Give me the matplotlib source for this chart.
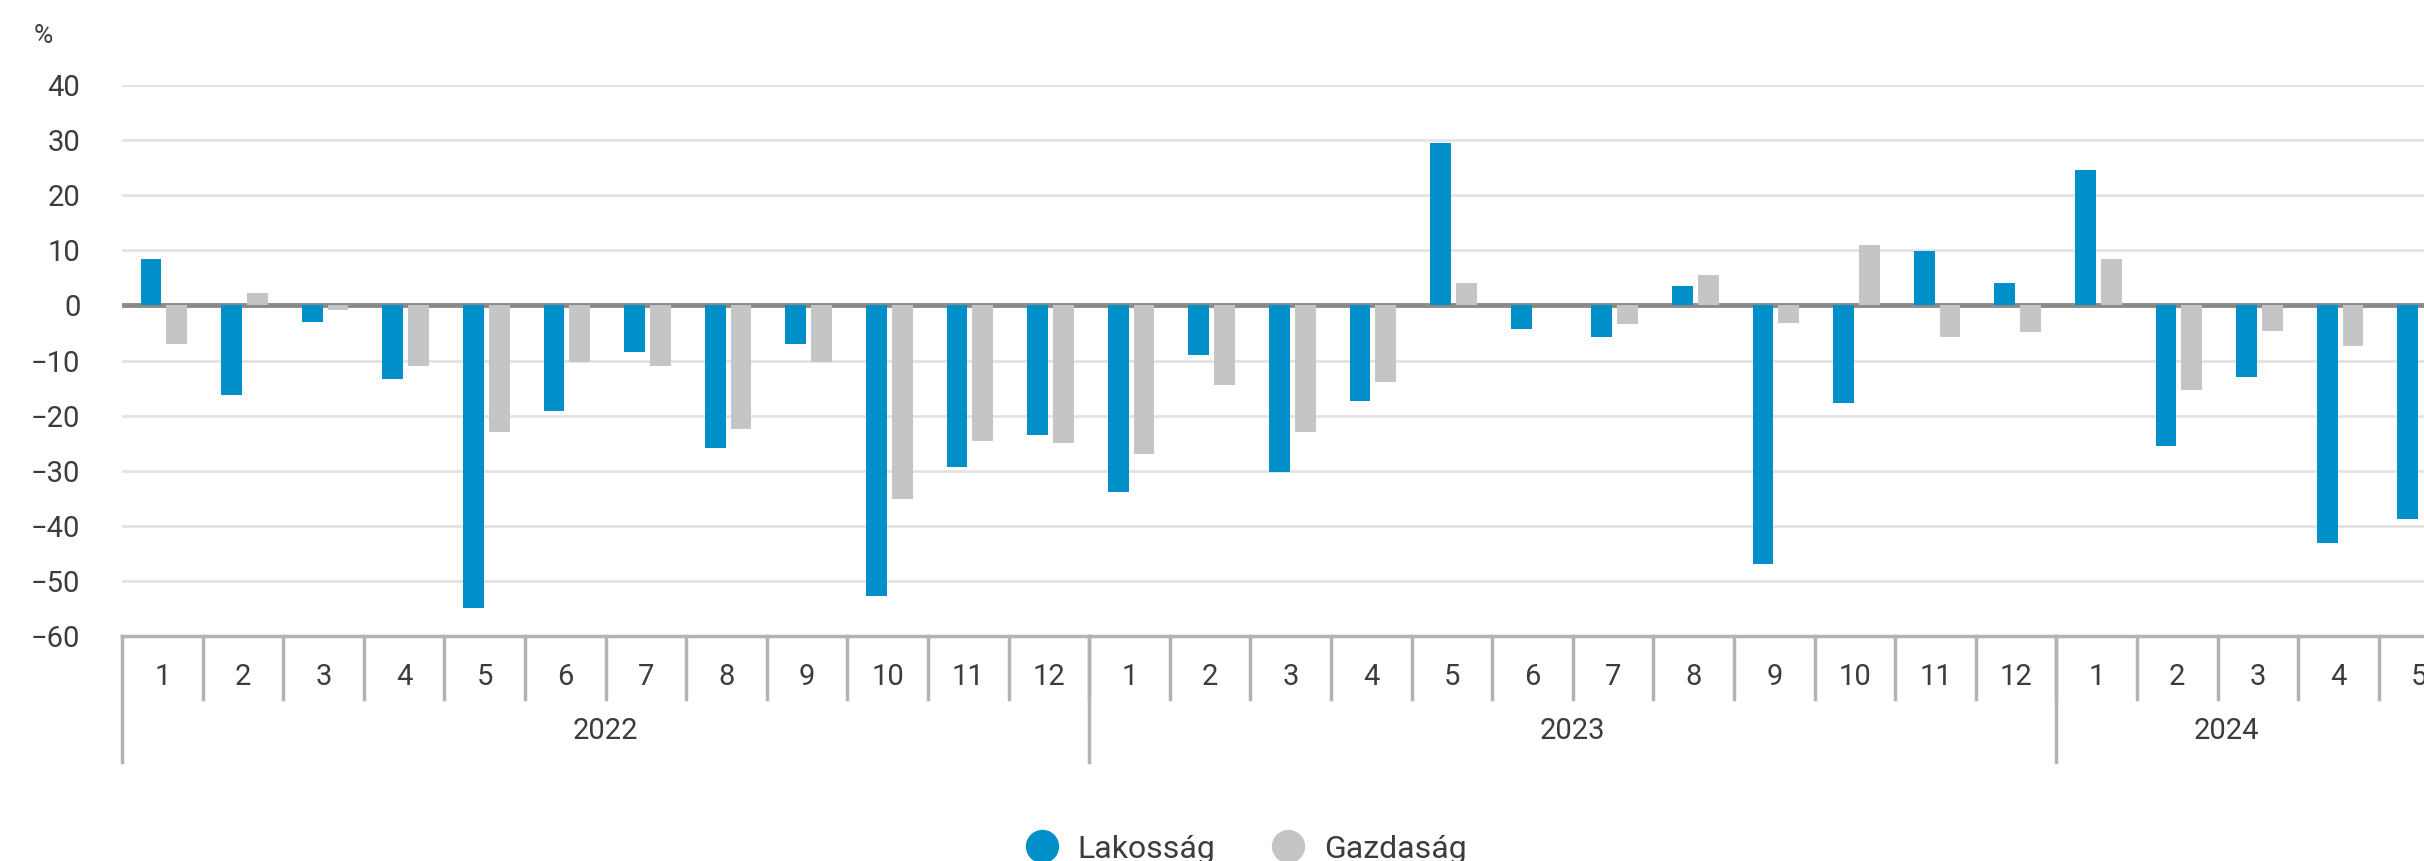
import numpy as np
import matplotlib
matplotlib.use('Agg')
import matplotlib.pyplot as plt
from matplotlib.lines import Line2D

## Data

years = ['2022', '2023', '2024']
months_per_year = [12, 12, 5]
month_labels = [str(m) for n in months_per_year for m in range(1, n + 1)]

lakossag = [8.5, -16.3, -3.0, -13.3, -55.0, -19.2, -8.5, -25.9, -7.0, -52.8, -29.3, -23.6,
            -33.8, -9.0, -30.3, -17.3, 29.4, -4.2, -5.7, 3.6, -47.0, -17.7, 9.8, 4.1,
            24.5, -25.5, -13.0, -43.2, -38.7]
gazdasag = [-7.0, 2.2, -0.8, -11.0, -23.0, -10.2, -11.0, -22.5, -10.2, -35.2, -24.6, -25.0,
            -27.0, -14.4, -23.0, -13.9, 4.1, 0.0, -3.3, 5.6, -3.2, 10.9, -5.7, -4.8,
            8.5, -15.3, -4.6, -7.4, np.nan]

series_names = ['Lakosság', 'Gazdaság']
colors = ['#008fc9', '#c4c5c7']

## Style

plt.rcParams['font.family'] = ['Roboto', 'DejaVu Sans']
text_col = '#3c3c3c'
axis_col = '#b3b3b3'

W, H = 2424, 861
fig = plt.figure(figsize=(W / 100, H / 100), dpi=100)

# axes in pixel units (slot width ~80.6 px, chart cut at right edge)
left_px, top_px, bottom_px = 122, 85, 636
n = len(month_labels)
slot = 80.6
ax = fig.add_axes([left_px / W, 1 - bottom_px / H, n * slot / W, (bottom_px - top_px) / H])

x = np.arange(n)
bw = 0.26
ax.bar(x - 0.14, lakossag, bw, color=colors[0], zorder=3)
ax.bar(x + 0.18, gazdasag, bw, color=colors[1], zorder=3)

ax.set_xlim(-0.5, n - 0.5)
ax.set_ylim(-60, 40)
ax.set_yticks(range(-60, 41, 10))
ax.grid(axis='y', color='#e3e3e3', linewidth=2, zorder=0)
ax.axhline(0, color='#8a8a8a', linewidth=3.5, zorder=2)
for s in ['top', 'right', 'left']:
    ax.spines[s].set_visible(False)
ax.spines['bottom'].set_color(axis_col)
ax.spines['bottom'].set_linewidth(2.5)
ax.tick_params(axis='y', length=0, pad=30, labelsize=21, labelcolor=text_col)
ax.set_xticks([])

# grouped category axis below the plot
tr = ax.get_xaxis_transform()
axh = bottom_px - top_px
def ay(px):
    return (bottom_px - px) / axh

for i, lab in enumerate(month_labels):
    ax.text(i, ay(677), lab, transform=tr, ha='center', va='center',
            fontsize=21, color=text_col, clip_on=False)
    if i > 0:
        ax.plot([i - 0.5, i - 0.5], [0, ay(699)], transform=tr, color=axis_col,
                linewidth=2.5, clip_on=False)

start = 0
for yr, cnt in zip(years, months_per_year):
    ax.plot([start - 0.5, start - 0.5], [0, ay(762)], transform=tr, color=axis_col,
            linewidth=2.5, clip_on=False)
    if cnt == 12:
        cx = start + cnt / 2 - 0.5
    else:
        # last group is cut off; label sits in the visible part
        cx = (2226 - left_px) / slot - 0.5
    ax.text(cx, ay(731), yr, transform=tr, ha='center', va='center',
            fontsize=21, color=text_col, clip_on=False)
    start += cnt

# unit label
fig.text(43 / W, 1 - 36 / H, '%', ha='center', va='center', fontsize=19, color=text_col)

# legend (cut at the bottom edge like the reference)
leg_y = 1 - 846 / H
for cxp, txp, name, c in [(1042, 1077, series_names[0], colors[0]),
                          (1288, 1324, series_names[1], colors[1])]:
    fig.add_artist(Line2D([cxp / W], [leg_y], marker='o', markersize=23,
                          color=c, linestyle='none', transform=fig.transFigure))
    fig.text(txp / W, 1 - 858 / H, name, ha='left', va='baseline', fontsize=23,
             color=text_col)

fig.savefig('out.png', dpi=100)
